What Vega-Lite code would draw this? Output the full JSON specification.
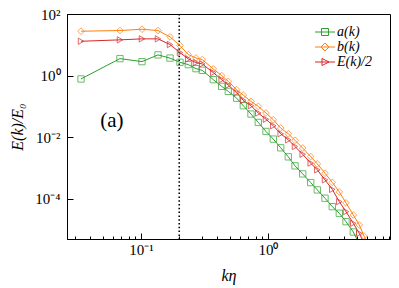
{
  "$schema": "https://vega.github.io/schema/vega-lite/v6.json",
  "width": 323,
  "height": 225,
  "autosize": {"type": "none"},
  "padding": {"left": 67, "top": 14, "right": 9, "bottom": 49},
  "background": "white",
  "config": {
    "view": {"stroke": "black", "strokeWidth": 1},
    "font": "Liberation Serif, serif",
    "axis": {
      "domainColor": "black",
      "domainWidth": 1,
      "tickColor": "black",
      "tickWidth": 1,
      "labelColor": "black",
      "labelFont": "Liberation Serif, serif",
      "labelFontSize": 15,
      "titleFont": "Liberation Serif, serif",
      "titleFontSize": 16,
      "titleFontStyle": "italic",
      "titleFontWeight": "normal",
      "titleColor": "black",
      "grid": false,
      "labelFlush": false,
      "labelOverlap": false
    }
  },
  "datasets": {
    "spec": [
      {"k": 0.0337, "E": 0.781, "s": "a(k)"},
      {"k": 0.0683, "E": 3.57, "s": "a(k)"},
      {"k": 0.1018, "E": 2.85, "s": "a(k)"},
      {"k": 0.1361, "E": 4.71, "s": "a(k)"},
      {"k": 0.1692, "E": 3.71, "s": "a(k)"},
      {"k": 0.2028, "E": 2.71, "s": "a(k)"},
      {"k": 0.2357, "E": 2.28, "s": "a(k)"},
      {"k": 0.271, "E": 1.689, "s": "a(k)"},
      {"k": 0.3039, "E": 1.487, "s": "a(k)"},
      {"k": 0.3709, "E": 0.741, "s": "a(k)"},
      {"k": 0.4318, "E": 0.449, "s": "a(k)"},
      {"k": 0.4869, "E": 0.3087, "s": "a(k)"},
      {"k": 0.567, "E": 0.1854, "s": "a(k)"},
      {"k": 0.6391, "E": 0.1058, "s": "a(k)"},
      {"k": 0.7347, "E": 0.0568, "s": "a(k)"},
      {"k": 0.8387, "E": 0.0303, "s": "a(k)"},
      {"k": 0.9645, "E": 0.01544, "s": "a(k)"},
      {"k": 1.101, "E": 0.00874, "s": "a(k)"},
      {"k": 1.259, "E": 0.00456, "s": "a(k)"},
      {"k": 1.445, "E": 0.002322, "s": "a(k)"},
      {"k": 1.632, "E": 0.001183, "s": "a(k)"},
      {"k": 1.876, "E": 0.00065, "s": "a(k)"},
      {"k": 2.169, "E": 0.000339, "s": "a(k)"},
      {"k": 2.445, "E": 0.0001963, "s": "a(k)"},
      {"k": 2.811, "E": 0.0001054, "s": "a(k)"},
      {"k": 3.208, "E": 0.0000562, "s": "a(k)"},
      {"k": 3.643, "E": 0.0000343, "s": "a(k)"},
      {"k": 4.114, "E": 0.0000183, "s": "a(k)"},
      {"k": 4.696, "E": 0.00000845, "s": "a(k)"},
      {"k": 5.235, "E": 0.00000344, "s": "a(k)"},
      {"k": 0.0337, "E": 27.6, "s": "b(k)"},
      {"k": 0.0683, "E": 29.1, "s": "b(k)"},
      {"k": 0.1018, "E": 32.0, "s": "b(k)"},
      {"k": 0.1361, "E": 29.1, "s": "b(k)"},
      {"k": 0.1692, "E": 18.1, "s": "b(k)"},
      {"k": 0.2028, "E": 9.45, "s": "b(k)"},
      {"k": 0.2357, "E": 4.82, "s": "b(k)"},
      {"k": 0.271, "E": 3.76, "s": "b(k)"},
      {"k": 0.3039, "E": 3.31, "s": "b(k)"},
      {"k": 0.3709, "E": 1.652, "s": "b(k)"},
      {"k": 0.4318, "E": 1.0, "s": "b(k)"},
      {"k": 0.4869, "E": 0.653, "s": "b(k)"},
      {"k": 0.567, "E": 0.3505, "s": "b(k)"},
      {"k": 0.6391, "E": 0.2322, "s": "b(k)"},
      {"k": 0.7347, "E": 0.146, "s": "b(k)"},
      {"k": 0.8387, "E": 0.1004, "s": "b(k)"},
      {"k": 0.9645, "E": 0.0612, "s": "b(k)"},
      {"k": 1.101, "E": 0.0371, "s": "b(k)"},
      {"k": 1.259, "E": 0.01992, "s": "b(k)"},
      {"k": 1.445, "E": 0.013, "s": "b(k)"},
      {"k": 1.632, "E": 0.00799, "s": "b(k)"},
      {"k": 1.876, "E": 0.004455, "s": "b(k)"},
      {"k": 2.169, "E": 0.002374, "s": "b(k)"},
      {"k": 2.445, "E": 0.001374, "s": "b(k)"},
      {"k": 2.811, "E": 0.000685, "s": "b(k)"},
      {"k": 3.208, "E": 0.000344, "s": "b(k)"},
      {"k": 3.643, "E": 0.000169, "s": "b(k)"},
      {"k": 4.114, "E": 0.0000741, "s": "b(k)"},
      {"k": 4.696, "E": 0.0000302, "s": "b(k)"},
      {"k": 5.235, "E": 0.0000143, "s": "b(k)"},
      {"k": 5.7, "E": 0.00000626, "s": "b(k)"},
      {"k": 6.355, "E": 0.00000255, "s": "b(k)"},
      {"k": 0.0337, "E": 13.04, "s": "E(k)/2"},
      {"k": 0.0683, "E": 14.49, "s": "E(k)/2"},
      {"k": 0.1018, "E": 15.61, "s": "E(k)/2"},
      {"k": 0.1361, "E": 15.61, "s": "E(k)/2"},
      {"k": 0.1692, "E": 10.19, "s": "E(k)/2"},
      {"k": 0.2028, "E": 5.6, "s": "E(k)/2"},
      {"k": 0.2357, "E": 3.49, "s": "E(k)/2"},
      {"k": 0.271, "E": 2.65, "s": "E(k)/2"},
      {"k": 0.3039, "E": 2.4, "s": "E(k)/2"},
      {"k": 0.3709, "E": 1.252, "s": "E(k)/2"},
      {"k": 0.4318, "E": 0.741, "s": "E(k)/2"},
      {"k": 0.4869, "E": 0.491, "s": "E(k)/2"},
      {"k": 0.567, "E": 0.28, "s": "E(k)/2"},
      {"k": 0.6391, "E": 0.1573, "s": "E(k)/2"},
      {"k": 0.7347, "E": 0.1058, "s": "E(k)/2"},
      {"k": 0.8387, "E": 0.0612, "s": "E(k)/2"},
      {"k": 0.9645, "E": 0.0385, "s": "E(k)/2"},
      {"k": 1.101, "E": 0.02366, "s": "E(k)/2"},
      {"k": 1.259, "E": 0.013, "s": "E(k)/2"},
      {"k": 1.445, "E": 0.00829, "s": "E(k)/2"},
      {"k": 1.632, "E": 0.00502, "s": "E(k)/2"},
      {"k": 1.876, "E": 0.0028, "s": "E(k)/2"},
      {"k": 2.169, "E": 0.001449, "s": "E(k)/2"},
      {"k": 2.445, "E": 0.000877, "s": "E(k)/2"},
      {"k": 2.811, "E": 0.000415, "s": "E(k)/2"},
      {"k": 3.208, "E": 0.0002037, "s": "E(k)/2"},
      {"k": 3.643, "E": 0.0000817, "s": "E(k)/2"},
      {"k": 4.114, "E": 0.0000386, "s": "E(k)/2"},
      {"k": 4.696, "E": 0.0000162, "s": "E(k)/2"},
      {"k": 5.235, "E": 0.00000766, "s": "E(k)/2"},
      {"k": 5.7, "E": 0.00000371, "s": "E(k)/2"}
    ],
    "vline": [{"k": 0.2}],
    "annot": [{"k": 0.059, "E": 0.035, "label": "(a)"}]
  },
  "layer": [
    {
      "data": {"name": "vline"},
      "mark": {"type": "rule", "color": "black", "strokeWidth": 1.6, "strokeDash": [1.5, 2.3]},
      "encoding": {
        "x": {
          "field": "k", "type": "quantitative",
          "scale": {"type": "log", "domain": [0.02614, 9.135], "nice": false, "zero": false},
          "axis": {
            "title": "kη",
            "titlePadding": 7,
            "values": [0.03, 0.04, 0.05, 0.06, 0.07, 0.08, 0.09, 0.1, 0.2, 0.3, 0.4, 0.5, 0.6, 0.7, 0.8, 0.9, 1, 2, 3, 4, 5, 6, 7, 8, 9],
            "labelExpr": "datum.value == 0.1 ? '10⁻¹' : datum.value == 1 ? '10⁰' : ''",
            "tickSize": {"condition": {"test": "datum.value == 0.1 || datum.value == 1", "value": -6}, "value": -3},
            "labelPadding": 9
          }
        }
      }
    },
    {
      "data": {"name": "spec"},
      "mark": {"type": "line", "strokeWidth": 1, "clip": true},
      "encoding": {
        "x": {"field": "k", "type": "quantitative", "scale": {"type": "log", "domain": [0.02614, 9.135], "nice": false}},
        "y": {
          "field": "E", "type": "quantitative",
          "scale": {"type": "log", "domain": [0.00000501, 100], "nice": false},
          "axis": {
            "title": "E(k)/E₀",
            "titlePadding": 9,
            "values": [0.0001, 0.01, 1, 100],
            "labelExpr": "datum.value == 100 ? '10²' : datum.value == 1 ? '10⁰' : datum.value == 0.01 ? '10⁻²' : '10⁻⁴'",
            "tickSize": -6,
            "labelPadding": 13
          }
        },
        "color": {
          "field": "s", "type": "nominal",
          "scale": {"domain": ["a(k)", "b(k)", "E(k)/2"], "range": ["#2ca02c", "#ff7f0e", "#d62728"]},
          "legend": {
            "title": null,
            "orient": "none",
            "legendX": 251,
            "legendY": 11,
            "padding": 0,
            "symbolSize": 100,
            "symbolStrokeWidth": 1,
            "symbolType": {"expr": "datum.value === 'a(k)' ? 'M-2,0H2M-0.7,-0.7H0.7V0.7H-0.7Z' : datum.value === 'b(k)' ? 'M-2,0H2M-0.8,0L0,-0.8L0.8,0L0,0.8Z' : 'M-2,0H2M-0.6,-0.7L0.8,0L-0.6,0.7Z'"},
            "labelFont": "Liberation Serif, serif",
            "labelFontSize": 14,
            "labelFontStyle": "italic",
            "labelColor": "black",
            "labelOffset": 5,
            "rowPadding": 1
          }
        }
      }
    },
    {
      "data": {"name": "spec"},
      "transform": [{"filter": "datum.s == 'a(k)'"}],
      "mark": {"type": "point", "shape": "square", "filled": false, "strokeWidth": 1, "opacity": 0.7, "size": 40, "clip": true},
      "encoding": {
        "x": {"field": "k", "type": "quantitative"},
        "y": {"field": "E", "type": "quantitative"},
        "color": {"field": "s", "type": "nominal", "legend": null}
      }
    },
    {
      "data": {"name": "spec"},
      "transform": [{"filter": "datum.s == 'b(k)'"}],
      "mark": {"type": "point", "shape": "diamond", "filled": false, "strokeWidth": 1, "opacity": 0.7, "size": 45, "clip": true},
      "encoding": {
        "x": {"field": "k", "type": "quantitative"},
        "y": {"field": "E", "type": "quantitative"},
        "color": {"field": "s", "type": "nominal", "legend": null}
      }
    },
    {
      "data": {"name": "spec"},
      "transform": [{"filter": "datum.s == 'E(k)/2'"}],
      "mark": {"type": "point", "shape": "triangle-right", "filled": false, "strokeWidth": 1, "opacity": 0.7, "size": 40, "clip": true},
      "encoding": {
        "x": {"field": "k", "type": "quantitative"},
        "y": {"field": "E", "type": "quantitative"},
        "color": {"field": "s", "type": "nominal", "legend": null}
      }
    },
    {
      "data": {"name": "annot"},
      "mark": {"type": "text", "font": "Liberation Serif, serif", "fontSize": 21, "align": "center", "baseline": "middle", "color": "black"},
      "encoding": {
        "x": {"field": "k", "type": "quantitative"},
        "y": {"field": "E", "type": "quantitative"},
        "text": {"field": "label"}
      }
    }
  ]
}
